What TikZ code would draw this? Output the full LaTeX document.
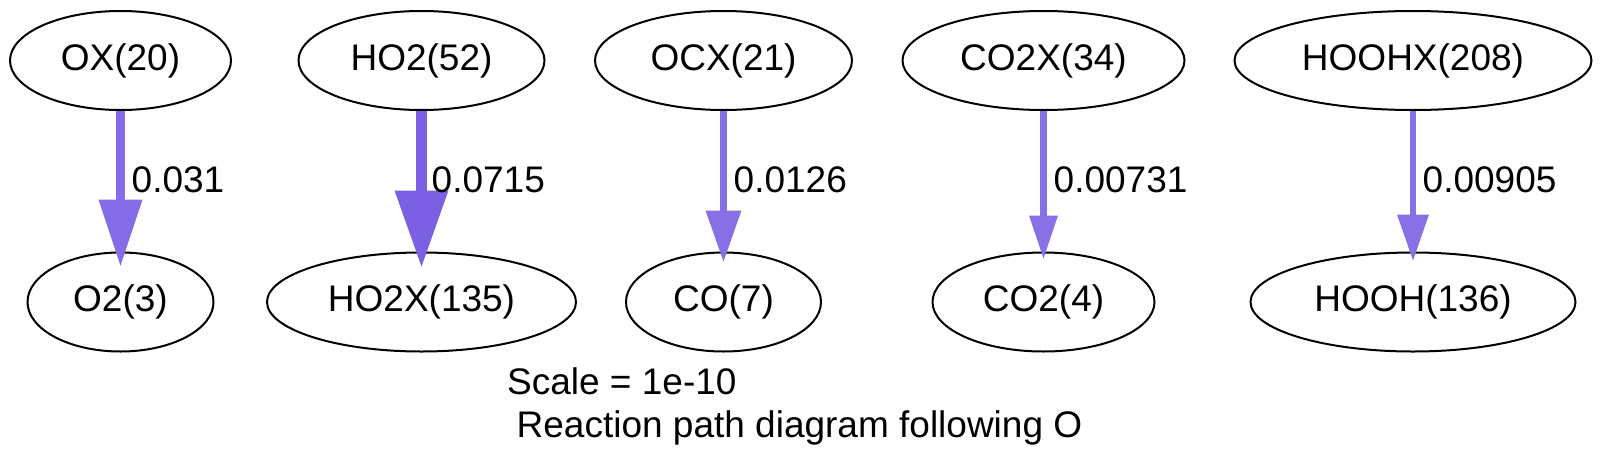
\documentclass[tikz,border=0pt]{standalone}
\usepackage{fontspec}
\setmainfont{Liberation Sans}
\usetikzlibrary{shapes.geometric,arrows.meta}
\definecolor{fluxA}{HTML}{846CE6}
\definecolor{fluxB}{HTML}{7B60E4}
\definecolor{fluxC}{HTML}{8770E6}
\definecolor{fluxD}{HTML}{8871E6}
\begin{document}
\begin{tikzpicture}[x=1pt,y=-1pt,
  species/.style={draw=black, line width=2pt, ellipse, inner sep=0pt, minimum height=99pt,
    font=\fontsize{37}{44}\selectfont},
  lbl/.style={anchor=base west, inner sep=0pt, font=\fontsize{37}{44}\selectfont},
  flux/.style={line width=#1}]
\useasboundingbox (0,0) rectangle (1603,469);
% top row
\node[species, minimum width=221pt] (ox) at (120.5,60.5) {OX(20)};
\node[species, minimum width=246pt] (ho2) at (421.5,60.5) {HO2(52)};
\node[species, minimum width=257pt] (ocx) at (723.5,60.5) {OCX(21)};
\node[species, minimum width=282pt] (co2x) at (1043.5,60.5) {CO2X(34)};
\node[species, minimum width=357pt] (hoohx) at (1413,60.5) {HOOHX(208)};
% bottom row
\node[species, minimum width=186pt] (o2) at (120.5,302) {O2(3)};
\node[species, minimum width=309pt] (ho2x) at (421.5,302) {HO2X(135)};
\node[species, minimum width=195pt] (co) at (723.5,302) {CO(7)};
\node[species, minimum width=222pt] (co2) at (1043.5,302) {CO2(4)};
\node[species, minimum width=325pt] (hooh) at (1413,302) {HOOH(136)};
% connectors
\draw[fluxA, line width=9pt, shorten >=-14pt, -{Triangle[length=66pt,width=44pt,line width=0pt]}] (ox.south) -- (o2.north);
\draw[fluxB, line width=11pt, shorten >=-15pt, -{Triangle[length=76pt,width=54pt,line width=0pt]}] (ho2.south) -- (ho2x.north);
\draw[fluxC, line width=7.5pt, shorten >=-10pt, -{Triangle[length=51pt,width=36pt,line width=0pt]}] (ocx.south) -- (co.north);
\draw[fluxD, line width=6.2pt, shorten >=-7pt, -{Triangle[length=43pt,width=29pt,line width=0pt]}] (co2x.south) -- (co2.north);
\draw[fluxD, line width=6.8pt, shorten >=-9pt, -{Triangle[length=46pt,width=32pt,line width=0pt]}] (hoohx.south) -- (hooh.north);
% edge labels
\node[lbl] (l1) at (131.5,192) {0.031};
\node[lbl] (l2) at (431.5,192) {0.0715};
\node[lbl] (l3) at (733.5,192) {0.0126};
\node[lbl] (l4) at (1053.5,192) {0.00731};
\node[lbl] (l5) at (1422.5,192) {0.00905};
% caption
\node[lbl] (scale) at (507,394) {Scale = 1e-10};
\node[lbl] (title) at (516.5,437) {Reaction path diagram following O};
\end{tikzpicture}
\end{document}
